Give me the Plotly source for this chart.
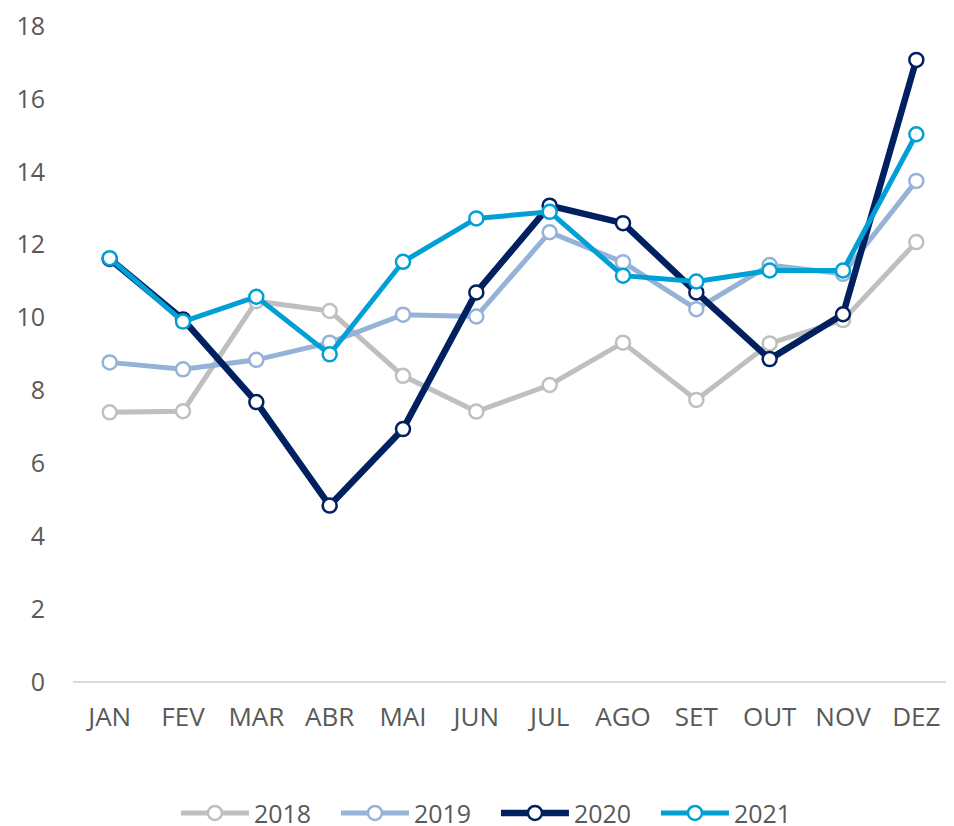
import plotly.graph_objects as go

# ── Data ─────────────────────────────────────────────────────────────────────
months = ["JAN", "FEV", "MAR", "ABR", "MAI", "JUN",
          "JUL", "AGO", "SET", "OUT", "NOV", "DEZ"]

y2018 = [7.40, 7.43, 10.45, 10.18, 8.40, 7.42, 8.15, 9.31, 7.74, 9.29, 9.93, 12.07]
y2019 = [8.77, 8.58, 8.84, 9.31, 10.08, 10.03, 12.34, 11.52, 10.23, 11.44, 11.20, 13.75]
y2020 = [11.61, 9.95, 7.68, 4.84, 6.94, 10.69, 13.07, 12.59, 10.69, 8.86, 10.09, 17.07]
y2021 = [11.63, 9.89, 10.57, 8.99, 11.53, 12.72, 12.90, 11.15, 10.99, 11.29, 11.29, 15.03]

y_ticks = [0, 2, 4, 6, 8, 10, 12, 14, 16, 18]

# ── Style ────────────────────────────────────────────────────────────────────
series = [
    ("2018", y2018, "#BFBFBF", 5),
    ("2019", y2019, "#95B3D7", 5),
    ("2020", y2020, "#002060", 6.5),
    ("2021", y2021, "#00A0D6", 5),
]
TEXT = "#595959"
FONT = "Open Sans, sans-serif"

fig = go.Figure()
for name, vals, color, width in series:
    fig.add_trace(go.Scatter(
        x=months,
        y=vals,
        name=name,
        mode="lines+markers",
        line=dict(color=color, width=width),
        marker=dict(size=14, color="white", line=dict(color=color, width=2.5)),
    ))

# page body has an 8px margin, so the figure is shrunk by that amount
fig.update_layout(
    width=946,
    height=818,
    paper_bgcolor="white",
    plot_bgcolor="white",
    font=dict(family=FONT, color=TEXT, size=25),
    margin=dict(l=65, r=1, t=18, b=144, autoexpand=False),
    showlegend=True,
    legend=dict(
        orientation="h",
        xanchor="left", x=0.117,
        yanchor="middle", y=-0.2,
        font=dict(size=25, color=TEXT),
        itemwidth=68,
        entrywidth=77,
        traceorder="normal",
    ),
)
fig.update_xaxes(
    range=[-0.5, 11.5],
    showgrid=False,
    zeroline=False,
    showline=False,
    ticks="",
    ticklabelstandoff=17,
    tickfont=dict(size=26),
    automargin=False,
)
fig.update_yaxes(
    range=[0, 18],
    tickvals=y_ticks,
    showgrid=False,
    zeroline=True,
    zerolinecolor="#D9D9D9",
    zerolinewidth=2,
    ticks="",
    ticklabelstandoff=27,
    ticklabeloverflow="allow",
    tickfont=dict(size=25),
    automargin=False,
)

fig.write_html("out.html")
